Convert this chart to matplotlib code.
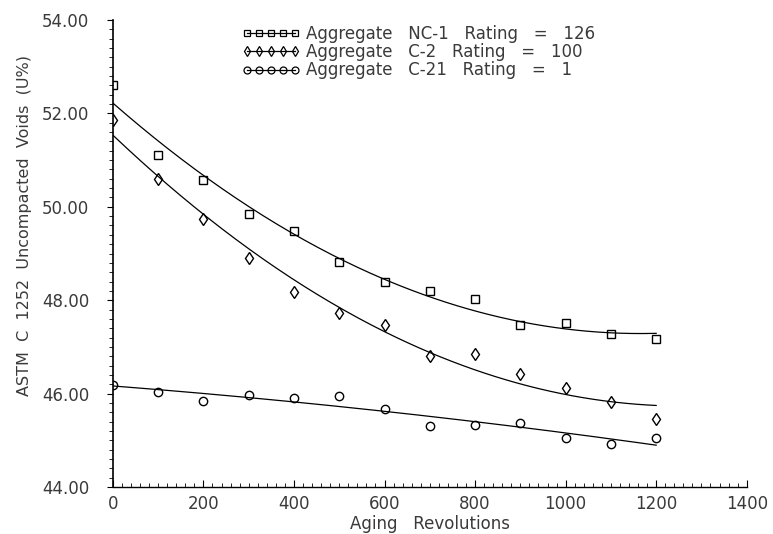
import matplotlib
matplotlib.use('Agg')
import matplotlib.pyplot as plt
from matplotlib.lines import Line2D
from matplotlib.ticker import MultipleLocator, FormatStrFormatter
import numpy as np

revolutions = [0, 100, 200, 300, 400, 500, 600, 700, 800, 900, 1000, 1100, 1200]

# values
nc1_voids = [52.60, 51.10, 50.58, 49.85, 49.48, 48.82, 48.39, 48.19, 48.02, 47.46, 47.51, 47.27, 47.16]
c2_voids = [51.85, 50.60, 49.74, 48.90, 48.17, 47.72, 47.46, 46.80, 46.85, 46.41, 46.11, 45.83, 45.45]
c21_voids = [46.19, 46.04, 45.85, 45.98, 45.91, 45.94, 45.66, 45.31, 45.33, 45.38, 45.05, 44.92, 45.05]

labels = ['Aggregate   NC-1   Rating   =   126',
          'Aggregate   C-2   Rating   =   100',
          'Aggregate   C-21   Rating   =   1']
markers = ['s', 'd', 'o']

txt = '#3a3a3a'
plt.rcParams['font.family'] = ['DejaVu Sans']

fig = plt.figure(figsize=(7.73, 5.34), dpi=100)
ax = fig.add_axes([0.146, 0.088, 0.820, 0.8745])

x = np.array(revolutions)
xs = np.linspace(0, 1200, 200)
handles = []
for ys, m, lab in zip([nc1_voids, c2_voids, c21_voids], markers, labels):
    ax.plot(x, ys, linestyle='none', marker=m, ms=6, mfc='none', mec='k', mew=1)
    # smooth fitted curve through each series
    coef = np.polyfit(x, ys, 2)
    ax.plot(xs, np.polyval(coef, xs), color='k', lw=0.9)
    handles.append(Line2D([], [], color='k', lw=0.9, marker=m, ms=5,
                          mfc='none', mec='k', mew=0.9))

ax.set_xlim(0, 1400)
ax.set_ylim(44, 54)
for s in ['top', 'right']:
    ax.spines[s].set_visible(False)
ax.spines['left'].set_linewidth(1.2)
ax.spines['bottom'].set_linewidth(1.0)

ax.xaxis.set_major_locator(MultipleLocator(200))
ax.xaxis.set_minor_locator(MultipleLocator(20))
ax.yaxis.set_major_locator(MultipleLocator(2))
ax.yaxis.set_minor_locator(MultipleLocator(0.2))
ax.yaxis.set_major_formatter(FormatStrFormatter('%.2f'))
ax.tick_params(axis='x', which='both', direction='in', labelsize=12, labelcolor=txt, pad=6)
ax.tick_params(axis='x', which='major', length=5)
ax.tick_params(axis='x', which='minor', length=3)
ax.tick_params(axis='y', which='both', direction='out', labelsize=12, labelcolor=txt)
ax.tick_params(axis='y', which='major', length=4, pad=13)
ax.tick_params(axis='y', which='minor', length=3)

ax.set_xlabel('Aging   Revolutions', fontsize=12, color=txt, labelpad=1)
ax.set_ylabel('ASTM  C  1252  Uncompacted  Voids  (U%)', fontsize=11.5, color=txt)
ax.yaxis.set_label_coords(-0.128, 0.56)

ax.legend(handles, labels, loc='upper left', bbox_to_anchor=(0.203, 0.99),
          frameon=False, numpoints=5, handlelength=3.5, handletextpad=0.35,
          labelspacing=0.02, borderpad=0, borderaxespad=0,
          prop={'size': 12}, labelcolor=txt)

fig.savefig('out.png', dpi=100)
